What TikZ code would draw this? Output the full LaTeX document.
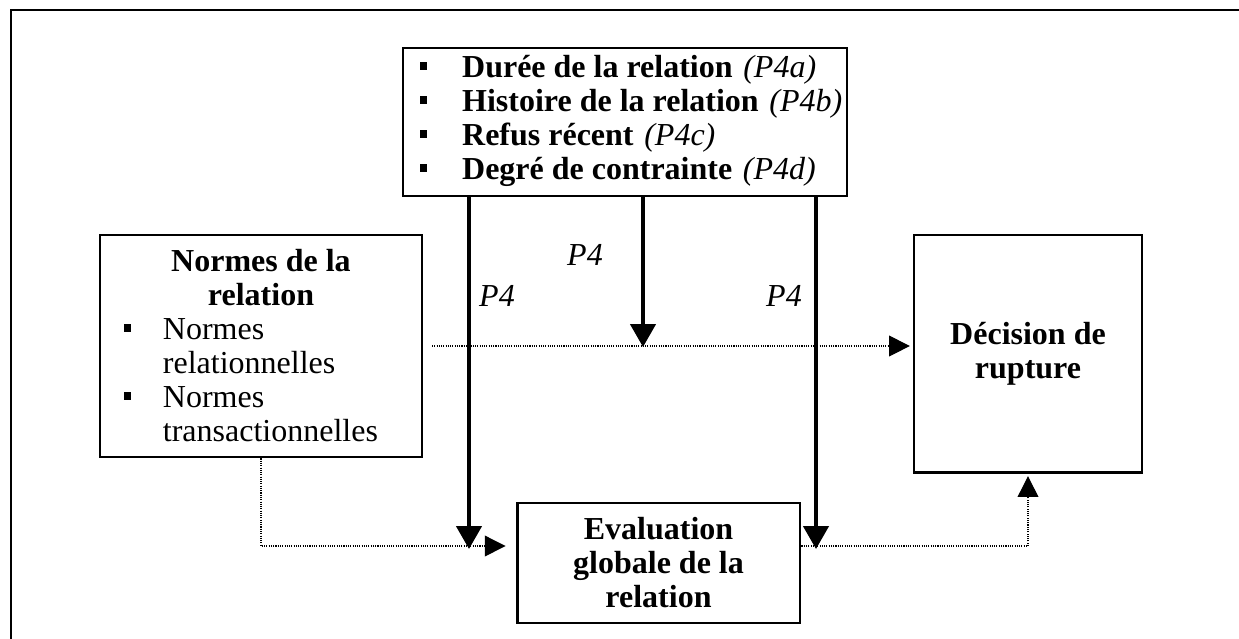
\documentclass[tikz,border=0pt]{standalone}
\usepackage{fontspec}
\setmainfont{Liberation Serif}
\usetikzlibrary{arrows.meta}

\newcommand{\carre}{\rule[3.0pt]{2.8pt}{2.8pt}}
\newcommand{\puce}{\makebox[14.6pt][l]{\carre}}
\newcommand{\prop}[1]{\hspace{1pt} \textit{#1}}

\begin{document}
\begin{tikzpicture}[x=0.375pt,y=-0.375pt,
    boite/.style={draw,line width=1.1pt,inner sep=0pt,align=center,
      font=\fontsize{12}{12.75}\selectfont},
    titre/.style={font=\fontsize{12}{12.75}\selectfont\bfseries},
    fleche/.style={line width=1.5pt,-{Triangle[length=8.6pt,width=9.4pt]}},
    pointille/.style={line width=0.4pt,dash pattern=on 0.4pt off 0.45pt,
      -{Triangle[length=7.8pt,width=7.8pt]}},
    etiq/.style={font=\fontsize{12}{12.75}\selectfont\itshape}]
        \useasboundingbox (0,0) rectangle (1239,638);
        \draw[line width=1.1pt] (11,640) -- (11,10) -- (1240,10);

        % boites
        \node[boite,minimum width=166.5pt,minimum height=55.5pt] (facteurs) at (625,122)
        {\hspace*{4.6pt}\begin{tabular}{@{}p{15.8pt}@{}l@{}}
          \carre & \textbf{Durée de la relation}\prop{(P4a)}\\
          \carre & \textbf{Histoire de la relation}\prop{(P4b)}\\
          \carre & \textbf{Refus récent}\prop{(P4c)}\\
          \carre & \textbf{Degré de contrainte}\prop{(P4d)}
        \end{tabular}};
        \node[boite,minimum width=120.75pt,minimum height=83.25pt] (normes) at (261,346)
        {\parbox{102.75pt}{\centering\textbf{Normes de la\\ relation}\par\raggedright
          \puce Normes\\ \hspace*{14.6pt}relationnelles\\
          \puce Normes\\ \hspace*{14.6pt}transactionnelles}};
        \node[boite,titre,minimum width=85.5pt,minimum height=88.9pt] (decision) at (1028,353.5)
        {Décision de\\ rupture};
        \node[boite,titre,minimum width=106.1pt,minimum height=45pt] (evaluation) at (658.5,563)
        {Evaluation\\ globale de la\\ relation};

        \coordinate (gauche) at (469,549);
        \coordinate (centre) at (643,347);
        \coordinate (droite) at (816,549);
        \coordinate (debut) at (432,346);
        \coordinate (niv) at (0,546);

        % moderateurs
        \draw[fleche] (facteurs.south -| gauche) -- (gauche);
        \draw[fleche] (facteurs.south -| centre) -- (centre);
        \draw[fleche] (facteurs.south -| droite) -- (droite);
        \node[etiq] (p4g) at (497,296) {P4};
        \node[etiq] (p4c) at (585,255) {P4};
        \node[etiq] (p4d) at (784,296) {P4};

        % liens
        \draw[pointille,shorten >=1pt] (debut) -- (decision.west |- debut);
        \draw[pointille,shorten >=3.75pt] (normes.south) |- (evaluation.west |- niv);
        \draw[pointille,shorten >=1pt] (evaluation.east |- niv) -| (decision.south);
      \end{tikzpicture}
\end{document}
